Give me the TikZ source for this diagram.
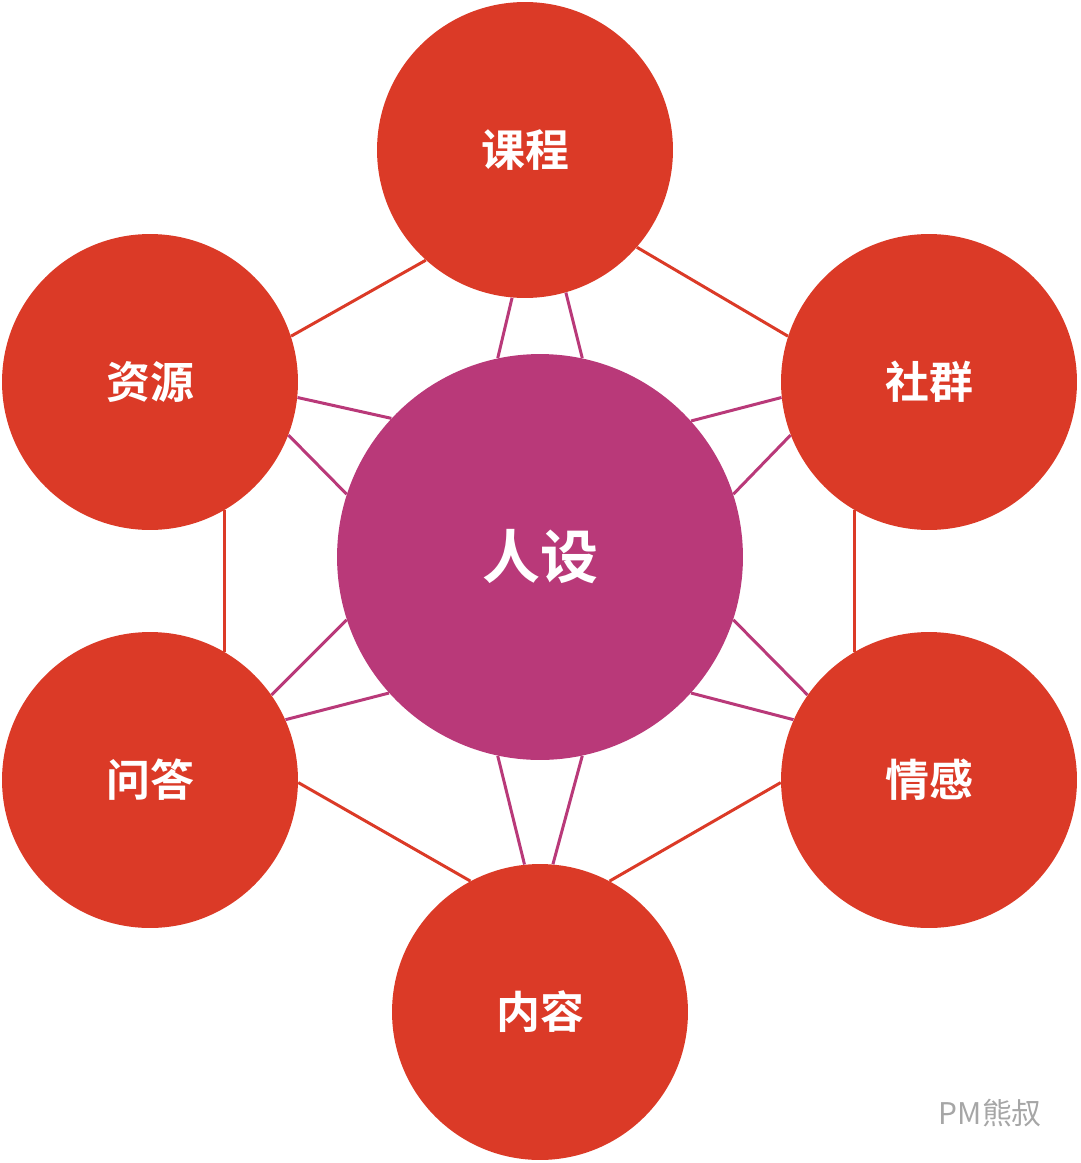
\documentclass[tikz,border=0pt]{standalone}
\usepackage{fontspec}
\newfontfamily\cjk{Noto Sans CJK SC Bold}
\newfontfamily\cjkr{Noto Sans CJK SC}
\definecolor{outred}{HTML}{DB3A27}
\definecolor{mag}{HTML}{B93979}
\tikzset{
  outer/.style={circle,fill=outred,minimum size=5.92cm,inner sep=0pt,text=white,font=\cjk\fontsize{25}{30}\selectfont},
  center/.style={circle,fill=mag,minimum size=8.12cm,inner sep=0pt,text=white,font=\cjk\fontsize{33}{40}\selectfont},
  redline/.style={draw=outred,line width=1.7pt},
  magline/.style={draw=mag,line width=1.7pt}
}
\begin{document}
\begin{tikzpicture}[x=0.02cm,y=-0.02cm]
\useasboundingbox (0,0) rectangle (1080,1163);
\node[center] (c) at (540,557) {人设};
\node[outer] (k) at (525,150) {课程};
\node[outer] (z) at (150,382) {资源};
\node[outer] (s) at (929,382) {社群};
\node[outer] (w) at (150,780) {问答};
\node[outer] (q) at (929,780) {情感};
\node[outer] (n) at (540,1012) {内容};
\draw[redline] (k.-41.7) -- (s.162);
\draw[redline] (k.228) -- (z.18);
\draw[redline] (z.-60) -- (w.60);
\draw[redline] (s.240) -- (q.120);
\draw[redline] (w.-1) -- (n.118);
\draw[redline] (n.62) -- (q.181);
\draw[magline] (c.102) -- (k.265);
\draw[magline] (c.78) -- (k.286);
\draw[magline] (c.137.6) -- (z.-6);
\draw[magline] (c.162) -- (z.-21.7);
\draw[magline] (c.42.4) -- (s.186);
\draw[magline] (c.18) -- (s.201.7);
\draw[magline] (c.222) -- (w.24);
\draw[magline] (c.198) -- (w.35);
\draw[magline] (c.318) -- (q.156);
\draw[magline] (c.342) -- (q.145);
\draw[magline] (c.258) -- (n.96);
\draw[magline] (c.282) -- (n.85);
\node[text=gray!70,font=\cjkr\fontsize{17}{20}\selectfont,anchor=east] (wm) at (1048,1113) {PM熊叔};
\end{tikzpicture}
\end{document}
